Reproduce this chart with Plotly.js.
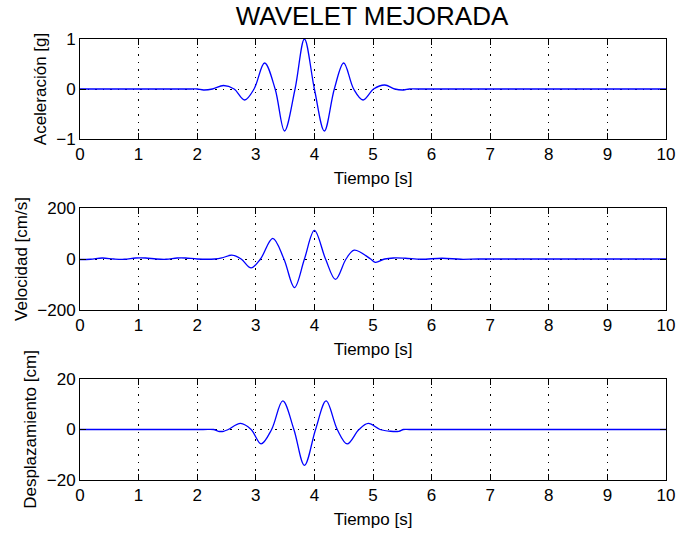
<!DOCTYPE html>
<html>
<head>
<meta charset="utf-8">
<script src="https://cdn.plot.ly/plotly-3.0.1.min.js"></script>
<style>html,body{margin:0;padding:0;background:#fff;}#chart{width:676px;height:533px;}</style>
</head>
<body>
<div id="chart"></div>
<script>
// Aceleración [g]
const tAcc = [0, 1.0, 1.9, 2.0, 2.11, 2.26, 2.45, 2.63, 2.81, 2.97, 3.15, 3.33, 3.49, 3.67, 3.83, 4.0, 4.17, 4.34, 4.50, 4.67, 4.83, 5.01, 5.20, 5.37, 5.52, 5.62, 5.75, 7.0, 10];
const acc  = [0, 0, 0, 0, -0.02, 0, 0.07, 0, -0.22, 0, 0.52, 0, -0.84, 0, 1.0, 0, -0.84, 0, 0.52, 0, -0.22, 0, 0.08, 0, -0.02, 0, 0, 0, 0];

// Velocidad [cm/s]
const tVel = [0, 0.18, 0.38, 0.58, 0.76, 0.95, 1.12, 1.3, 1.47, 1.66, 1.8, 2.0, 2.3, 2.42, 2.59, 2.75, 2.92, 3.08, 3.29, 3.48, 3.66, 3.83, 4.0, 4.19, 4.36, 4.54, 4.68, 4.96, 5.04, 5.2, 5.35, 5.55, 5.82, 6.18, 6.5, 6.8, 7.5, 8.5, 10];
const vel  = [-2, -1, 4, 0, -1, 4, 4, 0, -1, 4, 4, 0, 0, 4, 15, 0, -35, 0, 81, 0, -112, 0, 112, 0, -80, 0, 35, 0, -13, 0, 4, 3, -1, 3, -1, 0, 0, 0, 0];

// Desplazamiento [cm]
const tDis = [0, 1.0, 2.1, 2.28, 2.36, 2.45, 2.53, 2.74, 2.92, 3.09, 3.27, 3.46, 3.65, 3.83, 4.02, 4.2, 4.39, 4.56, 4.76, 4.92, 5.12, 5.3, 5.44, 5.52, 5.62, 6.0, 7.5, 10];
const dis  = [0, 0, 0, 0, -0.7, -0.7, 0, 2.4, 0, -5.7, 0, 11.3, 0, -14.2, 0, 11.3, 0, -5.7, 0, 2.4, 0, -0.7, -0.7, 0, 0, 0, 0, 0];

const xTicks = [0, 1, 2, 3, 4, 5, 6, 7, 8, 9, 10];
const accTicks = [-1, 0, 1];
const velTicks = [-200, 0, 200];
const disTicks = [-20, 0, 20];

const FONT = 'Liberation Sans, Arial, Helvetica, sans-serif';
const W = 676, H = 533;
const xDom = [80 / W, 666 / W];
function yDom(top, bot) { return [1 - bot / H, 1 - top / H]; }

function axisBase() {
  return {
    showline: true, linecolor: 'black', linewidth: 1, mirror: 'ticks',
    ticks: 'inside', ticklen: 6, tickcolor: 'black', tickwidth: 1,
    showgrid: true, gridcolor: 'black', griddash: '1.5px,6px', gridwidth: 1,
    zeroline: false,
    tickfont: {family: FONT, size: 17, color: 'black'}
  };
}
function xAxis(anchor) {
  return Object.assign(axisBase(), {
    domain: xDom, anchor: anchor, range: [0, 10], tickvals: xTicks,
    title: {text: 'Tiempo [s]', font: {family: FONT, size: 17, color: 'black'}, standoff: 8}
  });
}
function yAxis(anchor, dom, range, ticks, label) {
  return Object.assign(axisBase(), {
    domain: dom, anchor: anchor, range: range, tickvals: ticks,
    title: {text: label, font: {family: FONT, size: 17, color: 'black'}, standoff: 5}
  });
}

const line = {color: '#0000ff', width: 1.3, shape: 'spline', smoothing: 1};
const data = [
  {x: tAcc, y: acc, type: 'scatter', mode: 'lines', line: line, xaxis: 'x', yaxis: 'y', hoverinfo: 'skip'},
  {x: tVel, y: vel, type: 'scatter', mode: 'lines', line: line, xaxis: 'x2', yaxis: 'y2', hoverinfo: 'skip'},
  {x: tDis, y: dis, type: 'scatter', mode: 'lines', line: line, xaxis: 'x3', yaxis: 'y3', hoverinfo: 'skip'}
];

const layout = {
  width: W, height: H,
  margin: {l: 0, r: 0, t: 0, b: 0},
  paper_bgcolor: 'white', plot_bgcolor: 'white',
  showlegend: false,
  title: {text: 'WAVELET MEJORADA', font: {family: FONT, size: 26, color: 'black'},
          x: 372 / W, xanchor: 'center', xref: 'paper', y: 1 - 16 / H, yanchor: 'middle', yref: 'container'},
  xaxis: xAxis('y'),
  yaxis: yAxis('x', yDom(39, 139), [-1, 1], accTicks, 'Aceleración [g]'),
  xaxis2: xAxis('y2'),
  yaxis2: yAxis('x2', yDom(208, 310), [-200, 200], velTicks, 'Velocidad [cm/s]'),
  xaxis3: xAxis('y3'),
  yaxis3: yAxis('x3', yDom(379, 480), [-20, 20], disTicks, 'Desplazamiento [cm]')
};

Plotly.newPlot('chart', data, layout, {staticPlot: true, displayModeBar: false});
</script>
</body>
</html>
